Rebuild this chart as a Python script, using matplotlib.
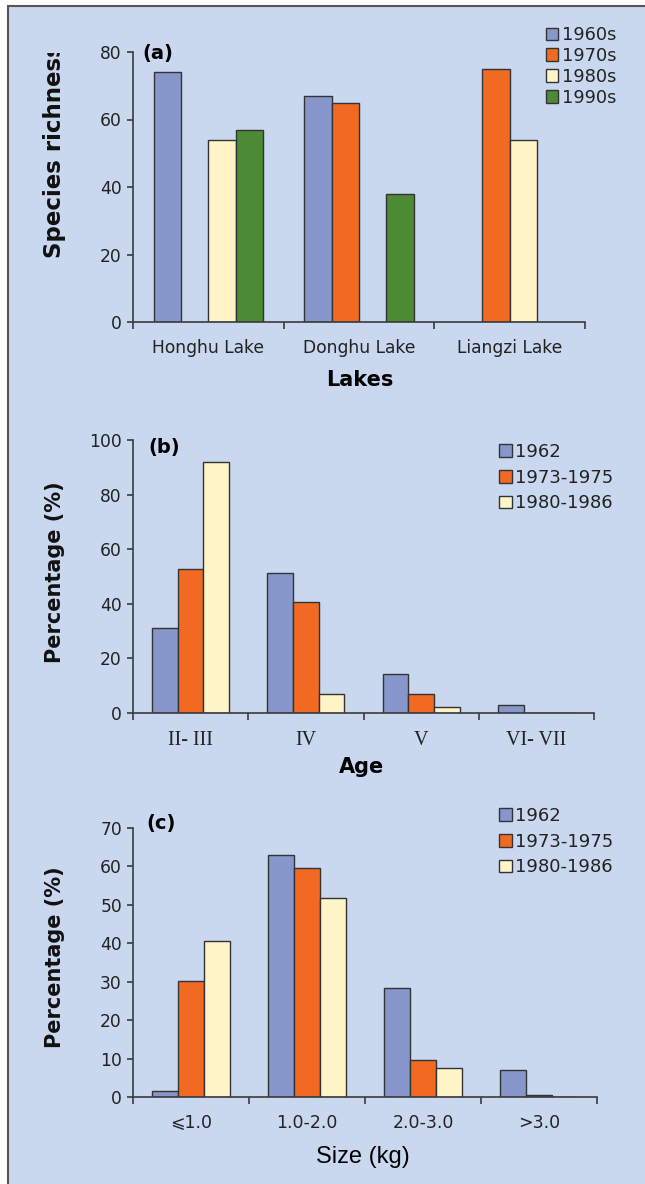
import numpy as np
import matplotlib
matplotlib.use('Agg')
import matplotlib.pyplot as plt
from matplotlib.patches import Patch, Rectangle
from matplotlib.transforms import Bbox

plt.rcParams['font.family'] = ['DejaVu Sans', 'Noto Sans CJK SC']

# ---- data ----
lakes = ['Honghu Lake', 'Donghu Lake', 'Liangzi Lake']
decades = ['1960s', '1970s', '1980s', '1990s']
richness_1960s = [74, 67, np.nan]
richness_1970s = [np.nan, 65, 75]
richness_1980s = [54, np.nan, 54]
richness_1990s = [57, 38, np.nan]

ages = ['II- III', 'IV', 'V', 'VI- VII']
periods = ['1962', '1973-1975', '1980-1986']
age_1962 = [31.3, 51.3, 14.2, 3.0]
age_1973 = [52.7, 40.8, 7.0, 0]
age_1980 = [91.8, 7.0, 2.1, 0]

sizes = ['\u2a7d1.0', '1.0-2.0', '2.0-3.0', '>3.0']
size_1962 = [1.5, 63.1, 28.4, 6.9]
size_1973 = [30.2, 59.6, 9.7, 0.4]
size_1980 = [40.6, 51.7, 7.6, 0]

c_blue = '#8797cb'
c_orange = '#f26a22'
c_cream = '#fff3c8'
c_green = '#4d8a36'
bg = '#c9d8ee'
dark = '#333333'

W, H = 645, 1184
fig = plt.figure(figsize=(W / 100, H / 100), dpi=100, facecolor='white')

# panel background with frame on left/top
fig.patches.append(Rectangle((8 / W, -0.01), (W + 10) / W, 1 - 6 / H + 0.01,
                             transform=fig.transFigure, facecolor=bg,
                             edgecolor='#555555', linewidth=1.5, zorder=-5))


def add_ax(left, right, top, bottom):
    ax = fig.add_axes([left / W, 1 - bottom / H, (right - left) / W, (bottom - top) / H])
    ax.set_facecolor('none')
    for s in ['top', 'right']:
        ax.spines[s].set_visible(False)
    for s in ['left', 'bottom']:
        ax.spines[s].set_color('#3a3a3a')
        ax.spines[s].set_linewidth(1.2)
    ax.tick_params(axis='y', direction='out', length=4, width=1.2, color='#3a3a3a',
                   labelsize=12.3, pad=4, labelcolor='#222222')
    return ax


def bars(ax, cats, series, colors, labelfont, labelsize, pad=12):
    n = len(series)
    w = 1 / (n + 1.5)
    x = np.arange(len(cats))
    for i, (vals, col) in enumerate(zip(series, colors)):
        ax.bar(x + 0.75 * w + i * w, vals, width=w, align='edge', color=col,
               edgecolor=dark, linewidth=1.0, zorder=2)
    ax.set_xlim(0, len(cats))
    ax.set_xticks(np.arange(len(cats) + 1))
    ax.set_xticklabels([])
    ax.tick_params(axis='x', which='major', direction='out', length=5, width=1.2, color='#3a3a3a')
    ax.set_xticks(x + 0.5, minor=True)
    ax.set_xticklabels(cats, minor=True, fontsize=labelsize, family=labelfont, color='#222222')
    ax.tick_params(axis='x', which='minor', length=0, pad=pad)


def legend(ax, labels, colors, left, top, size, spacing):
    handles = [Patch(facecolor=c, edgecolor=dark, linewidth=1.0) for c in colors]
    ax.legend(handles, labels, loc='upper left', bbox_to_anchor=(left / W, 1 - top / H),
              bbox_transform=fig.transFigure, frameon=False, fontsize=size,
              handlelength=0.7, handleheight=0.7, handletextpad=0.2,
              labelspacing=spacing, borderpad=0, borderaxespad=0, labelcolor='#222222')


# ---- (a) ----
ax1 = add_ax(133, 585, 52, 322)
bars(ax1, lakes, [richness_1960s, richness_1970s, richness_1980s, richness_1990s],
     [c_blue, c_orange, c_cream, c_green], 'DejaVu Sans', 12.3)
ax1.set_ylim(0, 80)
ax1.set_yticks(np.arange(0, 81, 20))
legend(ax1, decades, [c_blue, c_orange, c_cream, c_green], 546, 26, 12.8, 0.16)
fig.text(142 / W, 1 - 53 / H, '(a)', fontsize=14, fontweight='bold', va='center', ha='left')
# the original axis title is too long and gets cut at the top
t = fig.text(55 / W, 1 - 258 / H, 'Species richness', rotation=90, fontsize=16.5,
             fontweight='bold', ha='center', va='bottom', color='#111111')
t.set_clip_on(True)
t.set_clip_box(Bbox([[0, 0], [W, H - 53]]))
fig.text(360 / W, 1 - 380 / H, 'Lakes', fontsize=15, fontweight='bold', ha='center', va='center')

# ---- (b) ----
ax2 = add_ax(133, 594, 440, 713)
bars(ax2, ages, [age_1962, age_1973, age_1980], [c_blue, c_orange, c_cream],
     'Liberation Serif', 14.5, pad=13)
ax2.set_ylim(0, 100)
ax2.set_yticks(np.arange(0, 101, 20))
legend(ax2, periods, [c_blue, c_orange, c_cream], 499, 443, 13, 0.42)
fig.text(148 / W, 1 - 448 / H, '(b)', fontsize=14, fontweight='bold', va='center', ha='left')
fig.text(55 / W, 1 - 572 / H, 'Percentage (%)', rotation=90, fontsize=15,
         fontweight='bold', ha='center', va='center', color='#111111')
fig.text(362 / W, 1 - 767 / H, 'Age', fontsize=15, fontweight='bold', ha='center', va='center')

# ---- (c) ----
ax3 = add_ax(133, 597, 828, 1097)
bars(ax3, sizes, [size_1962, size_1973, size_1980], [c_blue, c_orange, c_cream],
     'DejaVu Sans', 12.5)
ax3.set_ylim(0, 70)
ax3.set_yticks(np.arange(0, 71, 10))
legend(ax3, periods, [c_blue, c_orange, c_cream], 499, 807, 13, 0.42)
fig.text(146 / W, 1 - 823 / H, '(c)', fontsize=14, fontweight='bold', va='center', ha='left')
fig.text(55 / W, 1 - 957 / H, 'Percentage (%)', rotation=90, fontsize=15,
         fontweight='bold', ha='center', va='center', color='#111111')
fig.text(363 / W, 1 - 1157 / H, 'Size (kg)', fontsize=17, family='Liberation Sans',
         ha='center', va='center')

fig.savefig('out.png', dpi=100, facecolor=fig.get_facecolor())
